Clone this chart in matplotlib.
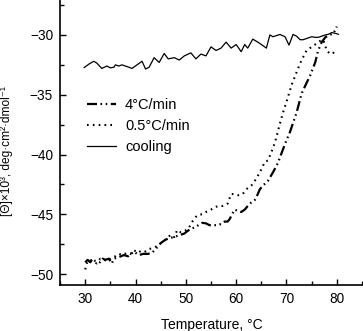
import matplotlib
matplotlib.use("Agg")
import matplotlib.pyplot as plt
from matplotlib.ticker import MultipleLocator

plt.rcParams['font.family'] = ['Liberation Sans', 'DejaVu Sans']
plt.rcParams['axes.unicode_minus'] = True

# heating at 4 degC/min
fast_t = [30.0, 30.5, 31.0, 31.5, 32.0, 33.0, 33.5, 34.0, 34.7, 35.3, 35.7, 36.5,
          37.7, 38.5, 39.7, 40.3, 40.7, 41.5, 42.5, 43.3, 44.0, 45.0, 46.0, 46.7,
          47.5, 48.3, 49.0, 49.7, 50.3, 51.0, 51.7, 52.5, 53.3, 54.0, 54.7, 55.5,
          56.3, 57.0, 57.7, 58.3, 58.7, 59.3, 59.7, 60.3, 61.0, 61.7, 62.3, 63.0,
          63.7, 64.3, 64.7, 65.3, 66.3, 67.3, 68.3, 69.0, 70.0, 70.7, 72.0, 73.0,
          74.0, 74.7, 75.7, 76.3, 77.0, 77.7, 78.5, 79.3, 80.0]
fast_cd = [-49.0, -48.8, -49.0, -48.7, -48.9, -49.0, -48.7, -48.8, -48.7, -49.1, -48.7, -48.6,
           -48.4, -48.5, -48.1, -48.3, -48.4, -48.3, -48.3, -48.2, -47.9, -47.4, -47.1, -47.0,
           -46.9, -46.8, -46.7, -46.6, -46.4, -46.2, -46.1, -45.9, -45.7, -45.75, -45.9, -45.9,
           -45.9, -45.8, -45.6, -45.6, -45.4, -44.9, -44.6, -44.7, -44.8, -44.6, -44.3, -44.0,
           -43.8, -43.3, -42.9, -42.6, -42.2, -41.5, -40.7, -39.9, -38.8, -38.1, -36.5, -34.9,
           -34.0, -33.4, -32.3, -31.3, -30.6, -30.2, -30.0, -29.9, -29.3]

# heating at 0.5 degC/min
slow_t = [30.0, 30.4, 30.8, 31.5, 32.3, 33.0, 33.7, 34.5, 35.3, 36.0, 36.7, 37.5,
          38.3, 39.0, 39.7, 40.5, 41.3, 42.0, 42.7, 43.5, 44.5, 45.3, 46.0, 47.0,
          47.7, 48.3, 49.0, 49.7, 50.5, 51.3, 52.0, 52.7, 53.3, 54.0, 55.0, 55.7,
          56.5, 57.3, 58.3, 59.0, 59.7, 60.5, 61.3, 62.0, 63.0, 63.7, 64.7, 65.7,
          66.3, 67.0, 67.7, 68.7, 69.3, 70.0, 71.0, 72.3, 73.0, 74.0, 75.0, 75.7,
          76.7, 77.3, 78.0, 78.7, 79.3, 80.0]
slow_cd = [-49.6, -49.0, -48.8, -48.9, -49.1, -48.7, -48.8, -48.9, -48.6, -48.5, -48.3, -48.4,
           -48.2, -48.3, -48.0, -48.2, -48.0, -48.1, -47.9, -47.8, -47.6, -47.3, -47.1, -46.7,
           -46.9, -46.3, -46.5, -46.4, -46.2, -45.6, -45.2, -45.0, -45.0, -44.8, -44.6, -44.4,
           -44.3, -44.3, -44.1, -43.3, -43.3, -43.4, -43.3, -42.9, -42.6, -42.2, -41.5, -40.6,
           -40.5, -39.8, -39.0, -37.4, -36.5, -35.6, -34.2, -32.8, -32.1, -31.3, -31.0, -30.8,
           -30.5, -30.4, -31.3, -31.6, -31.5, -31.2]

# cooling run
cool_t = [29.8, 30.7, 31.7, 32.3, 33.3, 34.3, 35.0, 35.7, 36.0, 36.7, 37.3, 38.0,
          38.7, 39.3, 40.3, 41.3, 42.0, 42.7, 43.7, 44.7, 45.7, 46.5, 47.7, 48.7,
          49.7, 51.0, 52.0, 53.0, 54.0, 55.0, 56.0, 57.0, 58.0, 59.0, 60.0, 61.0,
          61.7, 62.3, 63.3, 64.3, 65.0, 66.0, 66.7, 67.3, 68.7, 69.7, 70.5, 71.3,
          72.0, 72.7, 73.3, 74.0, 75.0, 75.7, 76.3, 77.0, 77.7, 78.3, 79.0, 79.5,
          80.0, 80.3]
cool_cd = [-32.73, -32.45, -32.2, -32.35, -32.8, -32.6, -32.75, -32.7, -32.5, -32.6, -32.5, -32.6,
           -32.7, -32.8, -32.5, -32.2, -32.85, -32.7, -31.9, -32.3, -31.55, -32.0, -31.9, -32.1,
           -31.75, -31.5, -32.0, -31.6, -31.75, -31.0, -31.3, -31.1, -30.6, -31.1, -30.8, -31.4,
           -30.8, -31.1, -30.35, -30.6, -30.8, -31.1, -30.0, -30.15, -29.96, -30.15, -30.85, -29.96,
           -30.1, -30.4, -30.4, -30.3, -30.15, -30.2, -30.2, -30.1, -30.0, -29.95, -29.8, -29.85,
           -29.9, -29.95]

fig = plt.figure(figsize=(3.63, 3.31), dpi=100)
ax = fig.add_axes([0.1653, 0.139, 0.8347, 0.861])

ax.plot(fast_t, fast_cd, color='black', lw=1.6,
        dashes=(4.5, 1.6, 0.7, 1.6, 0.7, 1.6), label='4°C/min')
ax.plot(slow_t, slow_cd, color='black', lw=1.5, dashes=(0.8, 2.0),
        label='0.5°C/min')
ax.plot(cool_t, cool_cd, color='black', lw=0.9, label='cooling')

ax.set_xlim(25, 85.2)
ax.set_ylim(-50.9, -27.08)

ax.xaxis.set_major_locator(MultipleLocator(10))
ax.xaxis.set_minor_locator(MultipleLocator(5))
ax.yaxis.set_major_locator(MultipleLocator(5))
ax.yaxis.set_minor_locator(MultipleLocator(2.5))
ax.tick_params(which='both', direction='in', labelsize=9.8, width=1.0, pad=5)
ax.tick_params(which='major', length=4)
ax.tick_params(which='minor', length=3)

for side in ('top', 'right'):
    ax.spines[side].set_visible(False)
for side in ('left', 'bottom'):
    ax.spines[side].set_linewidth(1.2)

ax.set_xlabel('Temperature, °C', fontsize=10, labelpad=9)
ax.set_ylabel('[Θ]×10³, deg·cm²·dmol⁻¹', fontsize=8.6, labelpad=8)
ax.yaxis.set_label_coords(-0.155, 0.47)

ax.legend(loc='upper left', bbox_to_anchor=(0.065, 0.68), frameon=False,
          fontsize=10.5, handlelength=2.0, handletextpad=0.6,
          labelspacing=0.45, borderpad=0)

fig.savefig('out.png', dpi=100)
